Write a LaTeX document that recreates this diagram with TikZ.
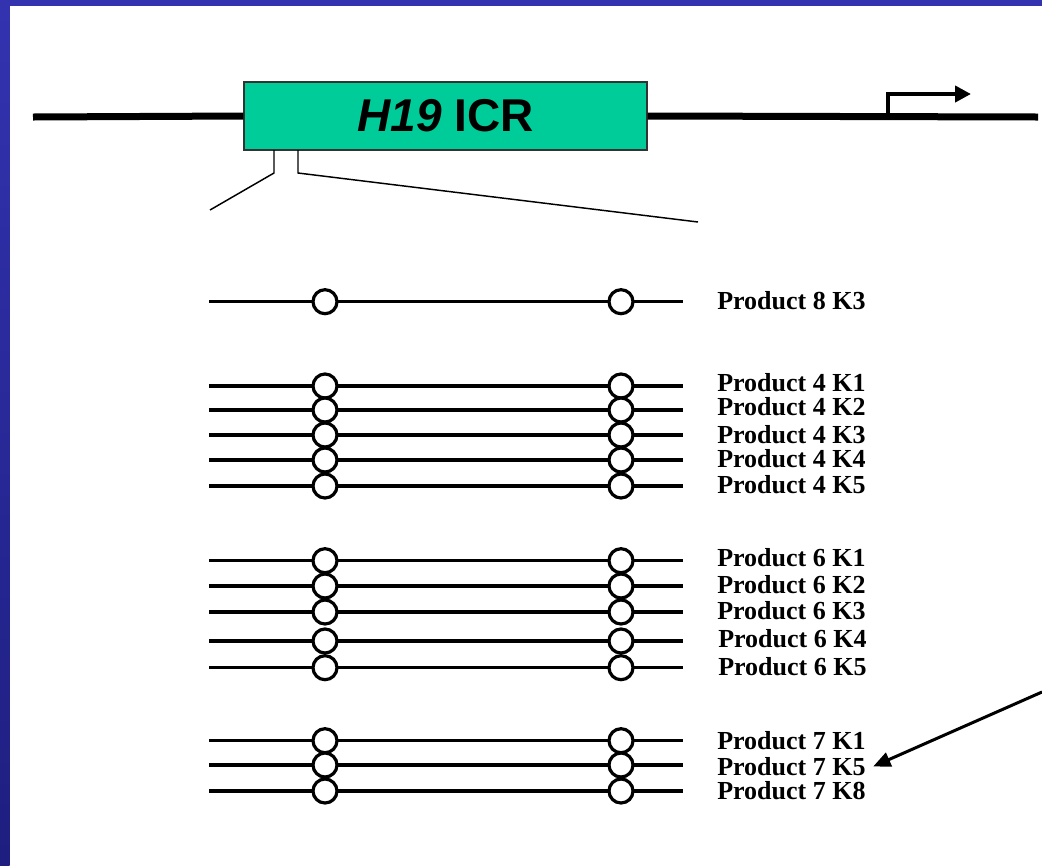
\documentclass[tikz,border=0pt]{standalone}
\usepackage{fontspec}
\setmainfont{Liberation Serif}
\newfontfamily\arialf{Liberation Sans}
\usetikzlibrary{arrows.meta}
\definecolor{icrgreen}{HTML}{00CC99}
\definecolor{bordtop}{HTML}{3333B0}
\definecolor{bordbot}{HTML}{1E1E80}
\tikzset{
  thickline/.style={line width=5.25pt},
  thinline/.style={line width=1.1pt},
  prodline/.style={line width=2.4pt},
  site/.style={circle, draw=black, fill=white, line width=2.4pt, inner sep=0pt, minimum size=18pt},
  lbl/.style={anchor=west, font=\bfseries\fontsize{19.5}{22}\selectfont, inner sep=6.5pt},
  icrbox/.style={draw=black!80, line width=1.1pt, fill=icrgreen, minimum width=302.25pt, minimum height=51pt, inner sep=0pt, font=\arialf\bfseries\fontsize{34.5}{40}\selectfont}
}
\begin{document}
\begin{tikzpicture}[x=0.75pt,y=-0.75pt]
\useasboundingbox (0,0) rectangle (1042,865);
\fill[white] (0,0) rectangle (1042,865);
% blue frame
\shade[top color=bordtop, bottom color=bordbot] (0,0) rectangle (9.5,865);
\fill[bordtop] (0,0) rectangle (1042,6);
% main line and ICR
\node[icrbox] (icr) at (445.5,116) {\textit{H19} ICR};
\coordinate (mainL) at (33,117);
\coordinate (mainR) at (1038,117);
\draw[thickline] (mainL) -- (icr.west);
\draw[thickline] (icr.east) -- (mainR);
% promoter arrow
\coordinate (prom) at (888,117);
\coordinate (promtip) at (971,94);
\draw[line width=3pt, -{Triangle[length=12pt,width=12pt]}] (prom) |- (promtip);
% zoom lines
\coordinate (zl0) at (274,150); \coordinate (zl1) at (274,173); \coordinate (zl2) at (210,210);
\coordinate (zr0) at (298,150); \coordinate (zr1) at (298,173); \coordinate (zr2) at (698,222);
\draw[thinline] (zl0) -- (zl1) -- (zl2);
\draw[thinline] (zr0) -- (zr1) -- (zr2);
% products
\foreach \n/\y in {a/301.7, b/386, c/410, d/435, e/460, f/486, g/560.7, h/586, i/612, j/641, k/667.7, l/740.7, m/765, n/791}{
  \coordinate (s\n) at (209,\y);
  \coordinate (e\n) at (683,\y);
  \draw[prodline] (s\n) -- (e\n);
}
\foreach \n/\y/\ly/\lx/\t in {
  a/301.7/300.5/717/Product 8 K3,
  b/386/383/717/Product 4 K1,
  c/410/406.5/717/Product 4 K2,
  d/435/435/717/Product 4 K3,
  e/460/459/717/Product 4 K4,
  f/486/485/717/Product 4 K5,
  g/560.7/558/717/Product 6 K1,
  h/586/584.5/717/Product 6 K2,
  i/612/611/717/Product 6 K3,
  j/641/638.5/718/Product 6 K4,
  k/667.7/667/718/Product 6 K5,
  l/740.7/741/717/Product 7 K1,
  m/765/766.5/717/Product 7 K5,
  n/791/791/717/Product 7 K8}{
  \node[site] (c1\n) at (325,\y) {};
  \node[site] (c2\n) at (621,\y) {};
  \node[lbl] (t\n) at ([xshift=-6.5pt]\lx,\ly) {\t};
}
% pointer arrow
\coordinate (ptr) at (1042,692);
\draw[line width=2.25pt, -{Triangle[length=13pt,width=11pt]}] (ptr) -- ([xshift=-1pt]tm.east);
\end{tikzpicture}
\end{document}
